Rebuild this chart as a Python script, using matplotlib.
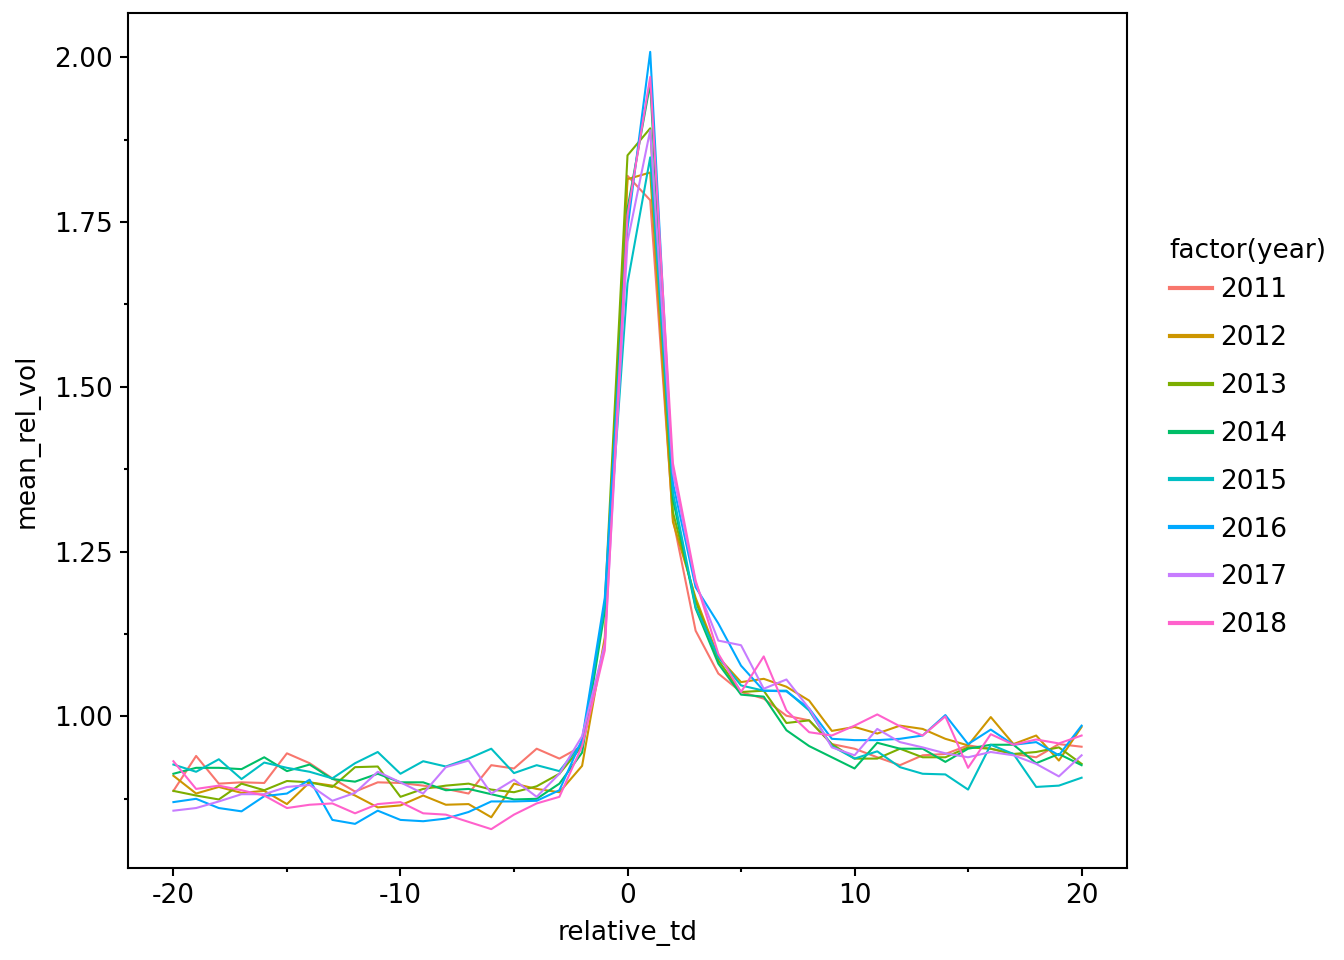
import numpy as np
import matplotlib
matplotlib.use("Agg")
import matplotlib.pyplot as plt
from matplotlib.ticker import MultipleLocator, FormatStrFormatter
from matplotlib.lines import Line2D

plt.rcParams['axes.unicode_minus'] = False  # plain hyphen in "-20"

relative_td = np.arange(-20, 21)
years = [2011, 2012, 2013, 2014, 2015, 2016, 2017, 2018]
colors = ['#F8766D', '#CD9600', '#7CAE00', '#00BE67',
          '#00BFC4', '#00A9FF', '#C77CFF', '#FF61CC']

vol_2011 = [0.887, 0.940, 0.898, 0.900, 0.899, 0.944, 0.929, 0.906, 0.886, 0.900,
            0.899, 0.895, 0.890, 0.883, 0.926, 0.921, 0.951, 0.936, 0.955, 1.110,
            1.820, 1.783, 1.300, 1.130, 1.065, 1.037, 1.027, 1.001, 0.994, 0.958,
            0.951, 0.938, 0.926, 0.941, 0.943, 0.956, 0.951, 0.943, 0.938, 0.958,
            0.954]
vol_2012 = [0.910, 0.883, 0.893, 0.884, 0.887, 0.867, 0.900, 0.895, 0.880, 0.862,
            0.865, 0.880, 0.866, 0.867, 0.847, 0.898, 0.890, 0.885, 0.925, 1.120,
            1.815, 1.825, 1.295, 1.180, 1.090, 1.052, 1.057, 1.045, 1.024, 0.978,
            0.984, 0.974, 0.986, 0.981, 0.966, 0.956, 0.999, 0.958, 0.971, 0.933,
            0.984]
vol_2013 = [0.887, 0.880, 0.874, 0.898, 0.888, 0.902, 0.900, 0.893, 0.923, 0.924,
            0.878, 0.890, 0.895, 0.898, 0.889, 0.885, 0.894, 0.913, 0.955, 1.170,
            1.851, 1.892, 1.310, 1.175, 1.085, 1.037, 1.039, 0.990, 0.994, 0.958,
            0.936, 0.936, 0.951, 0.938, 0.938, 0.953, 0.951, 0.943, 0.946, 0.953,
            0.928]
vol_2014 = [0.913, 0.922, 0.922, 0.920, 0.938, 0.917, 0.927, 0.905, 0.901, 0.913,
            0.900, 0.900, 0.888, 0.890, 0.882, 0.874, 0.875, 0.898, 0.945, 1.160,
            1.770, 1.960, 1.330, 1.164, 1.080, 1.033, 1.030, 0.979, 0.955, 0.938,
            0.921, 0.960, 0.951, 0.951, 0.931, 0.951, 0.957, 0.957, 0.929, 0.943,
            0.926]
vol_2015 = [0.927, 0.916, 0.935, 0.905, 0.930, 0.922, 0.916, 0.906, 0.929, 0.946,
            0.913, 0.932, 0.924, 0.936, 0.951, 0.914, 0.926, 0.917, 0.960, 1.170,
            1.657, 1.848, 1.340, 1.166, 1.090, 1.047, 1.039, 1.039, 1.009, 0.955,
            0.936, 0.947, 0.923, 0.913, 0.912, 0.889, 0.957, 0.943, 0.893, 0.895,
            0.907]
vol_2016 = [0.870, 0.875, 0.861, 0.856, 0.879, 0.883, 0.904, 0.843, 0.837, 0.857,
            0.843, 0.841, 0.845, 0.855, 0.871, 0.871, 0.872, 0.888, 0.965, 1.180,
            1.740, 2.008, 1.354, 1.196, 1.141, 1.077, 1.039, 1.038, 1.012, 0.966,
            0.964, 0.964, 0.966, 0.971, 1.002, 0.958, 0.980, 0.957, 0.961, 0.941,
            0.986]
vol_2017 = [0.857, 0.861, 0.871, 0.882, 0.882, 0.893, 0.896, 0.872, 0.884, 0.916,
            0.900, 0.883, 0.923, 0.933, 0.883, 0.904, 0.878, 0.913, 0.970, 1.110,
            1.720, 1.889, 1.370, 1.203, 1.115, 1.108, 1.042, 1.056, 1.012, 0.953,
            0.941, 0.981, 0.961, 0.953, 0.944, 0.938, 0.946, 0.941, 0.928, 0.909,
            0.941]
vol_2018 = [0.932, 0.890, 0.895, 0.888, 0.880, 0.861, 0.866, 0.868, 0.853, 0.867,
            0.870, 0.853, 0.851, 0.840, 0.829, 0.851, 0.868, 0.878, 0.955, 1.100,
            1.760, 1.970, 1.384, 1.206, 1.095, 1.037, 1.091, 1.009, 0.976, 0.971,
            0.986, 1.003, 0.985, 0.971, 1.000, 0.922, 0.973, 0.957, 0.965, 0.959,
            0.971]
series = [vol_2011, vol_2012, vol_2013, vol_2014, vol_2015, vol_2016, vol_2017, vol_2018]

FS = 19

fig = plt.figure(figsize=(13.44, 9.6), dpi=100)
ax = fig.add_axes([128/1344, 1 - 868/960, (1127 - 128)/1344, (868 - 13)/960])

for yr, vals, c in zip(years, series, colors):
    ax.plot(relative_td, vals, color=c, lw=1.5)

ax.xaxis.set_major_locator(MultipleLocator(10))
ax.xaxis.set_minor_locator(MultipleLocator(5))
ax.yaxis.set_major_locator(MultipleLocator(0.25))
ax.yaxis.set_minor_locator(MultipleLocator(0.125))
ax.yaxis.set_major_formatter(FormatStrFormatter('%.2f'))
ax.tick_params(which='major', direction='out', length=6, width=1.5,
               labelsize=FS, pad=5)
ax.tick_params(which='minor', direction='out', length=3, width=1.5)
for s in ax.spines.values():
    s.set_linewidth(1.5)

ax.set_xlabel('relative_td', fontsize=FS, labelpad=8)
ax.set_ylabel('mean_rel_vol', fontsize=FS, labelpad=10)

handles = [Line2D([], [], color=c, lw=3) for c in colors]
leg = fig.legend(handles, [str(y) for y in years], title='factor(year)',
                 loc='center left', bbox_to_anchor=(1146/1344, 1 - 438/960),
                 frameon=False, fontsize=FS, title_fontsize=FS,
                 handlelength=1.6, handletextpad=0.3, labelspacing=0.83)
leg._legend_box.align = 'left'
leg._legend_box.sep = 9.7  # tighter gap under the title (points)

fig.savefig('out.png', dpi=100)
